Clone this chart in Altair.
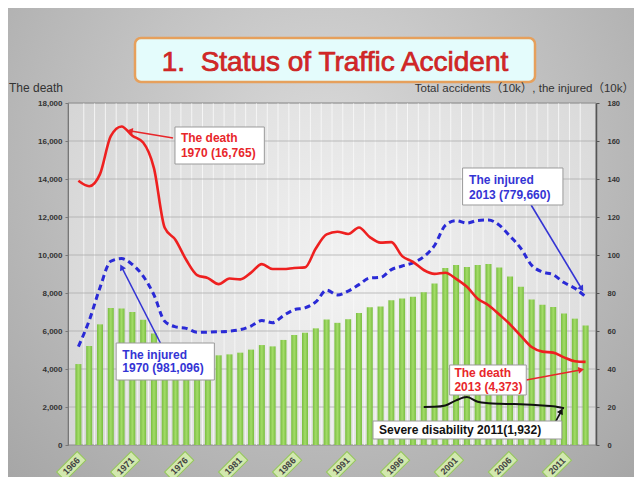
import altair as alt
import pandas as pd

# ---------------- data ----------------
years = list(range(1966, 2014))
deaths = [13904, 13618, 14256, 16257, 16765, 16278, 15918, 14574, 11432, 10792,
          9734, 8945, 8783, 8466, 8760, 8719, 9073, 9520, 9262, 9261,
          9317, 9347, 10344, 11086, 11227, 11109, 11451, 10942, 10649, 10679,
          9942, 9640, 9211, 9006, 9066, 8747, 8326, 7702, 7358, 6871,
          6352, 5744, 5155, 4914, 4863, 4612, 4411, 4373]
injured = [51.8, 65.5, 82.8, 96.7, 98.1, 95.0, 88.9, 79.0, 65.1, 62.2,
           61.4, 59.3, 59.4, 59.6, 59.9, 60.7, 62.6, 65.5, 64.4, 68.1,
           71.2, 72.2, 75.3, 81.5, 79.0, 81.0, 84.4, 87.9, 88.2, 92.3,
           94.2, 95.9, 99.1, 105.0, 115.6, 118.1, 116.8, 118.2, 118.4, 115.7,
           109.9, 103.5, 94.6, 91.1, 89.6, 85.5, 82.5, 78.0]
accidents = [42.6, 52.1, 63.5, 72.1, 71.8, 70.0, 65.9, 58.7, 49.0, 47.3,
             47.1, 46.1, 46.4, 47.2, 47.7, 48.6, 50.2, 52.6, 51.9, 55.3,
             57.9, 59.1, 61.4, 66.1, 64.3, 66.2, 69.5, 72.5, 72.9, 76.2,
             77.1, 78.0, 80.4, 85.0, 93.2, 94.7, 93.7, 94.8, 95.3, 93.4,
             88.7, 83.3, 76.6, 73.8, 72.6, 69.2, 66.5, 62.9]
severe_years = list(range(1998, 2012))
severe = [2000, 2010, 2080, 2350, 2520, 2280, 2200, 2170, 2160, 2150, 2120, 2080, 2040, 1932]
label_years = [1966, 1971, 1976, 1981, 1986, 1991, 1996, 2001, 2006, 2011]

left_ticks = list(range(0, 18001, 2000))
right_ticks = list(range(0, 181, 20))

# annotation boxes (year, year, deaths-scale, deaths-scale)
box_x = [1974.95, 2001.6, 1969.5, 2000.4, 1993.3]
box_x2 = [1983.23, 2010.9, 1978.6, 2007.5, 2010.8]
box_y = [16737, 14579, 5368, 4211, 1263]
box_y2 = [14789, 12632, 3421, 2632, 316]

ann_text = ["The death", "1970 (16,765)", "The injured", "2013 (779,660)",
            "The injured", "1970 (981,096)", "The death", "2013 (4,373)",
            "Severe disability 2011(1,932)"]
ann_x = [1975.5, 1975.5, 2002.2, 2002.2, 1970.07, 1970.07, 2000.84, 2000.84, 1993.86]
ann_y = [16158, 15368, 13947, 13158, 4737, 4053, 3805, 3068, 789]
ann_col = ["#e8262a", "#e8262a", "#3434d4", "#3434d4", "#3434d4", "#3434d4",
           "#e8262a", "#e8262a", "#111111"]

arr_x = [1974.77, 2007.95, 1973.6, 2007.5, 2009.8]
arr_y = [16158, 12632, 5368, 3421, 789]
arr_x2 = [1970.86, 2012.59, 1970.05, 2012.5, 2010.7]
arr_y2 = [16526, 8263, 9316, 3947, 1737]
arr_angle = [279, 148, 332, 80, 29]
arr_col = ["#e8262a", "#3434d4", "#3434d4", "#e8262a", "#111111"]

# ---------------- tables ----------------
main = pd.DataFrame({"year": years, "deaths": deaths, "injured": injured, "accidents": accidents})
sev = pd.DataFrame({"year": severe_years, "severe": severe})
labs = pd.DataFrame({"year": label_years})
vgrid = pd.DataFrame({"year": years[:-1]})
hgrid = pd.DataFrame({"v": left_ticks[1:]})
boxes = pd.DataFrame({"x": box_x, "x2": box_x2, "y": box_y, "y2": box_y2})
texts = pd.DataFrame({"x": ann_x, "y": ann_y, "t": ann_text, "c": ann_col})
arrows = pd.DataFrame({"x": arr_x, "y": arr_y, "x2": arr_x2, "y2": arr_y2,
                       "a": arr_angle, "c": arr_col})
one = pd.DataFrame({"a": [0]})

W, H = 528, 342
FONT = "Liberation Sans, Arial, Noto Sans CJK JP"

xs = alt.Scale(domain=[1965.5, 2013.5], nice=False, zero=False)
dscale = alt.Scale(domain=[0, 18000], nice=False)
rscale = alt.Scale(domain=[0, 180], nice=False)

# ---------------- layers ----------------
bg_outer = alt.Chart(one).mark_rect(
    fill=alt.RadialGradient(gradient="radial",
                            stops=[alt.GradientStop(offset=0, color="#dadada"),
                                   alt.GradientStop(offset=1, color="#a4a4a4")],
                            x1=0.5, y1=0.35, x2=0.5, y2=0.35, r1=0, r2=0.75)
).encode(x=alt.value(-60), x2=alt.value(W + 40), y=alt.value(-95), y2=alt.value(H + 40))

bg_plot = alt.Chart(one).mark_rect(
    fill=alt.RadialGradient(gradient="radial",
                            stops=[alt.GradientStop(offset=0, color="#f3f3f3"),
                                   alt.GradientStop(offset=1, color="#d0d0d0")],
                            x1=0.55, y1=0.5, x2=0.55, y2=0.5, r1=0, r2=0.75),
    stroke="#8a8a8a", strokeWidth=1
).encode(x=alt.value(0), x2=alt.value(W), y=alt.value(0), y2=alt.value(H))

vg = alt.Chart(vgrid).transform_calculate(b="datum.year + 0.5").mark_rule(
    color="#f7f7f7", strokeWidth=1, opacity=0.9
).encode(x=alt.X("b:Q", scale=xs, axis=None), y=alt.value(0), y2=alt.value(H))

hg = alt.Chart(hgrid).mark_rule(color="#a8a8a8", strokeWidth=0.7).encode(
    y=alt.Y("v:Q", scale=dscale, axis=None), x=alt.value(0), x2=alt.value(W))

bars = alt.Chart(main).mark_bar(
    width=6,
    fill=alt.LinearGradient(gradient="linear",
                            stops=[alt.GradientStop(offset=0, color="#79bd40"),
                                   alt.GradientStop(offset=0.5, color="#a3dc68"),
                                   alt.GradientStop(offset=1, color="#79bd40")],
                            x1=0, x2=1, y1=0, y2=0)
).encode(
    x=alt.X("year:Q", scale=xs, axis=None),
    y=alt.Y("accidents:Q", scale=rscale,
            axis=alt.Axis(orient="right", values=right_ticks, format="d", title=None, grid=False,
                          labelFontSize=7.5, labelFontWeight="bold", labelColor="#333",
                          labelFont=FONT, domainColor="#555", domainWidth=1.5,
                          tickColor="#555", tickSize=3, labelPadding=8, zindex=2)),
)

inj = alt.Chart(main).mark_line(
    color="#2a2ad6", strokeWidth=3, strokeDash=[6, 4], interpolate="monotone"
).encode(x=alt.X("year:Q", scale=xs, axis=None),
         y=alt.Y("injured:Q", scale=rscale, axis=None))

dth = alt.Chart(main).mark_line(
    color="#ee2020", strokeWidth=2.6, interpolate="monotone"
).encode(
    x=alt.X("year:Q", scale=xs, axis=None),
    y=alt.Y("deaths:Q", scale=dscale,
            axis=alt.Axis(orient="left", values=left_ticks, format=",.0f", title=None, grid=False,
                          labelFontSize=8, labelFontWeight="bold", labelColor="#333",
                          labelFont=FONT, domainColor="#777", tickColor="#777",
                          tickSize=3, labelPadding=3, zindex=2)),
)

sv = alt.Chart(sev).mark_line(color="#111111", strokeWidth=2, interpolate="monotone").encode(
    x=alt.X("year:Q", scale=xs, axis=None),
    y=alt.Y("severe:Q", scale=dscale, axis=None))

bx = alt.Chart(boxes).mark_rect(fill="white", stroke="#9a9a9a", strokeWidth=1).encode(
    x=alt.X("x:Q", scale=xs, axis=None), x2="x2",
    y=alt.Y("y:Q", scale=dscale, axis=None), y2="y2")

ar = alt.Chart(arrows).mark_rule(strokeWidth=1.6).encode(
    x=alt.X("x:Q", scale=xs, axis=None), x2="x2",
    y=alt.Y("y:Q", scale=dscale, axis=None), y2="y2",
    color=alt.Color("c:N", scale=None))

ah = alt.Chart(arrows).mark_point(shape="triangle", size=45, filled=True, opacity=1).encode(
    x=alt.X("x2:Q", scale=xs, axis=None),
    y=alt.Y("y2:Q", scale=dscale, axis=None),
    angle=alt.Angle("a:Q", scale=None),
    color=alt.Color("c:N", scale=None))

tx = alt.Chart(texts).mark_text(align="left", baseline="middle", fontSize=12,
                                fontWeight="bold", font=FONT).encode(
    x=alt.X("x:Q", scale=xs, axis=None),
    y=alt.Y("y:Q", scale=dscale, axis=None),
    text="t:N", color=alt.Color("c:N", scale=None))

lab_box = alt.Chart(labs).mark_point(
    shape="M-3.45,0.38L-0.55,0.38L-0.55,1.6L-3.45,1.6Z", angle=315, size=400,
    filled=True, fill="#d2e8ae", stroke="#94c85a", strokeWidth=1, opacity=1
).encode(x=alt.X("year:Q", scale=xs, axis=None), y=alt.value(H))

lab_txt = alt.Chart(labs).mark_text(
    angle=315, dx=-19.8, dy=9.9, align="center", baseline="middle",
    fontSize=9, fontWeight="bold", color="#444", font=FONT
).encode(x=alt.X("year:Q", scale=xs, axis=None), y=alt.value(H), text="year:N")

title_box = alt.Chart(one).mark_rect(
    fill="#e4fcfc", stroke="#e6a05c", strokeWidth=2.5, cornerRadius=6
).encode(x=alt.value(67), x2=alt.value(467), y=alt.value(-65), y2=alt.value(-21))

title_txt = alt.Chart(one).mark_text(
    text="1.\u00a0 Status of Traffic Accident", fontSize=28, color="#d42828",
    stroke="#c82020", strokeWidth=0.7,
    font=FONT, align="center", baseline="alphabetic"
).encode(x=alt.value(267), y=alt.value(-32))

lt = alt.Chart(one).mark_text(text="The death", fontSize=12, color="#333",
                              font=FONT, align="left", baseline="alphabetic"
                              ).encode(x=alt.value(-59), y=alt.value(-11))
rt = alt.Chart(one).mark_text(text="Total accidents（10k）, the injured（10k）", fontSize=11.5,
                              color="#333", font=FONT, align="right", baseline="alphabetic"
                              ).encode(x=alt.value(W + 38), y=alt.value(-11))

chart = alt.layer(
    bg_outer, bg_plot, vg, hg, bars, inj, dth, sv, ar, ah, bx, tx,
    lab_box, lab_txt, title_box, title_txt, lt, rt
).resolve_scale(y="independent").properties(
    width=W, height=H,
    autosize=alt.AutoSizeParams(type="none"),
    padding={"left": 60, "top": 95, "right": 38, "bottom": 32},
    background="#a8a8a8",
).configure_view(stroke=None)

chart.save("out.html", embed_options={"renderer": "svg", "actions": False})
